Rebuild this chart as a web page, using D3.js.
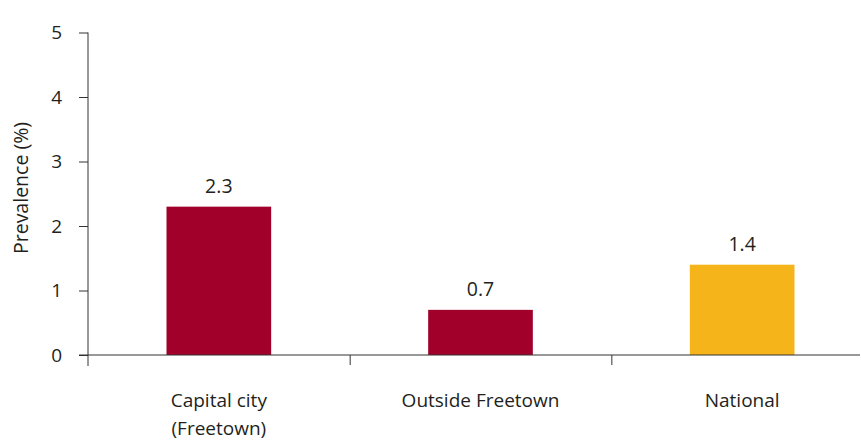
<!DOCTYPE html>
<html><head><meta charset="utf-8">
<script src="https://cdn.jsdelivr.net/npm/d3@7"></script>
<style>body{margin:0;background:#fff}svg{display:block}text{font-family:"Open Sans",sans-serif;fill:#231f20}</style>
</head><body><svg id="c" width="861" height="441"></svg>
<script>
const categories = [["Capital city","(Freetown)"],["Outside Freetown"],["National"]];
const values = [2.3, 0.7, 1.4];
const barColors = ["#a1002b","#a1002b","#f5b41a"];
const yTicks = [0,1,2,3,4,5];

const svg = d3.select("#c");
const x = d3.scaleBand().domain(d3.range(categories.length)).range([88, 873]).paddingInner(0).paddingOuter(0);
const y = d3.scaleLinear().domain([0,5]).range([355, 32.5]);
const axisColor = "#333";

svg.selectAll("rect.bar").data(values).join("rect")
  .attr("x",(d,i)=>x(i)+x.bandwidth()*0.3)
  .attr("width",x.bandwidth()*0.4)
  .attr("y",d=>y(d)).attr("height",d=>y(0)-y(d))
  .attr("fill",(d,i)=>barColors[i]);

svg.selectAll("text.val").data(values).join("text")
  .attr("x",(d,i)=>x(i)+x.bandwidth()/2).attr("y",d=>y(d)-14)
  .attr("text-anchor","middle").attr("font-size",19.5).text(d=>d.toFixed(1));

const yAxis = d3.axisLeft(y).tickValues(yTicks).tickFormat(d3.format("d")).tickSize(9).tickPadding(17);
const gy = svg.append("g").attr("transform","translate(88,0)").call(yAxis);
gy.select(".domain").attr("stroke",axisColor).attr("d","M0,"+y(5)+"V366");
gy.selectAll(".tick line").attr("stroke",axisColor);
gy.selectAll(".tick text").attr("font-size",19).attr("font-family","Open Sans").attr("fill","#231f20");

const xAxis = d3.axisBottom(x).tickSize(10).tickFormat("");
const gx = svg.append("g").attr("transform","translate(0,355)").call(xAxis);
gx.select(".domain").attr("stroke",axisColor).attr("d","M79,0H860");
gx.selectAll(".tick").attr("transform",(d)=>`translate(${x(d)+0.5},0)`);
gx.selectAll(".tick line").attr("stroke",axisColor);
gx.selectAll(".tick").filter(d=>d===0).remove();

categories.forEach((lines,i)=>{
  const t = svg.append("text").attr("text-anchor","middle").attr("font-size",19);
  lines.forEach((l,j)=>t.append("tspan").attr("x",x(i)+x.bandwidth()/2).attr("y",407+j*28).text(l));
});

svg.append("text").attr("transform","translate(28,188) rotate(-90)").attr("text-anchor","middle")
  .attr("font-size",19.5).text("Prevalence (%)");
</script></body></html>
